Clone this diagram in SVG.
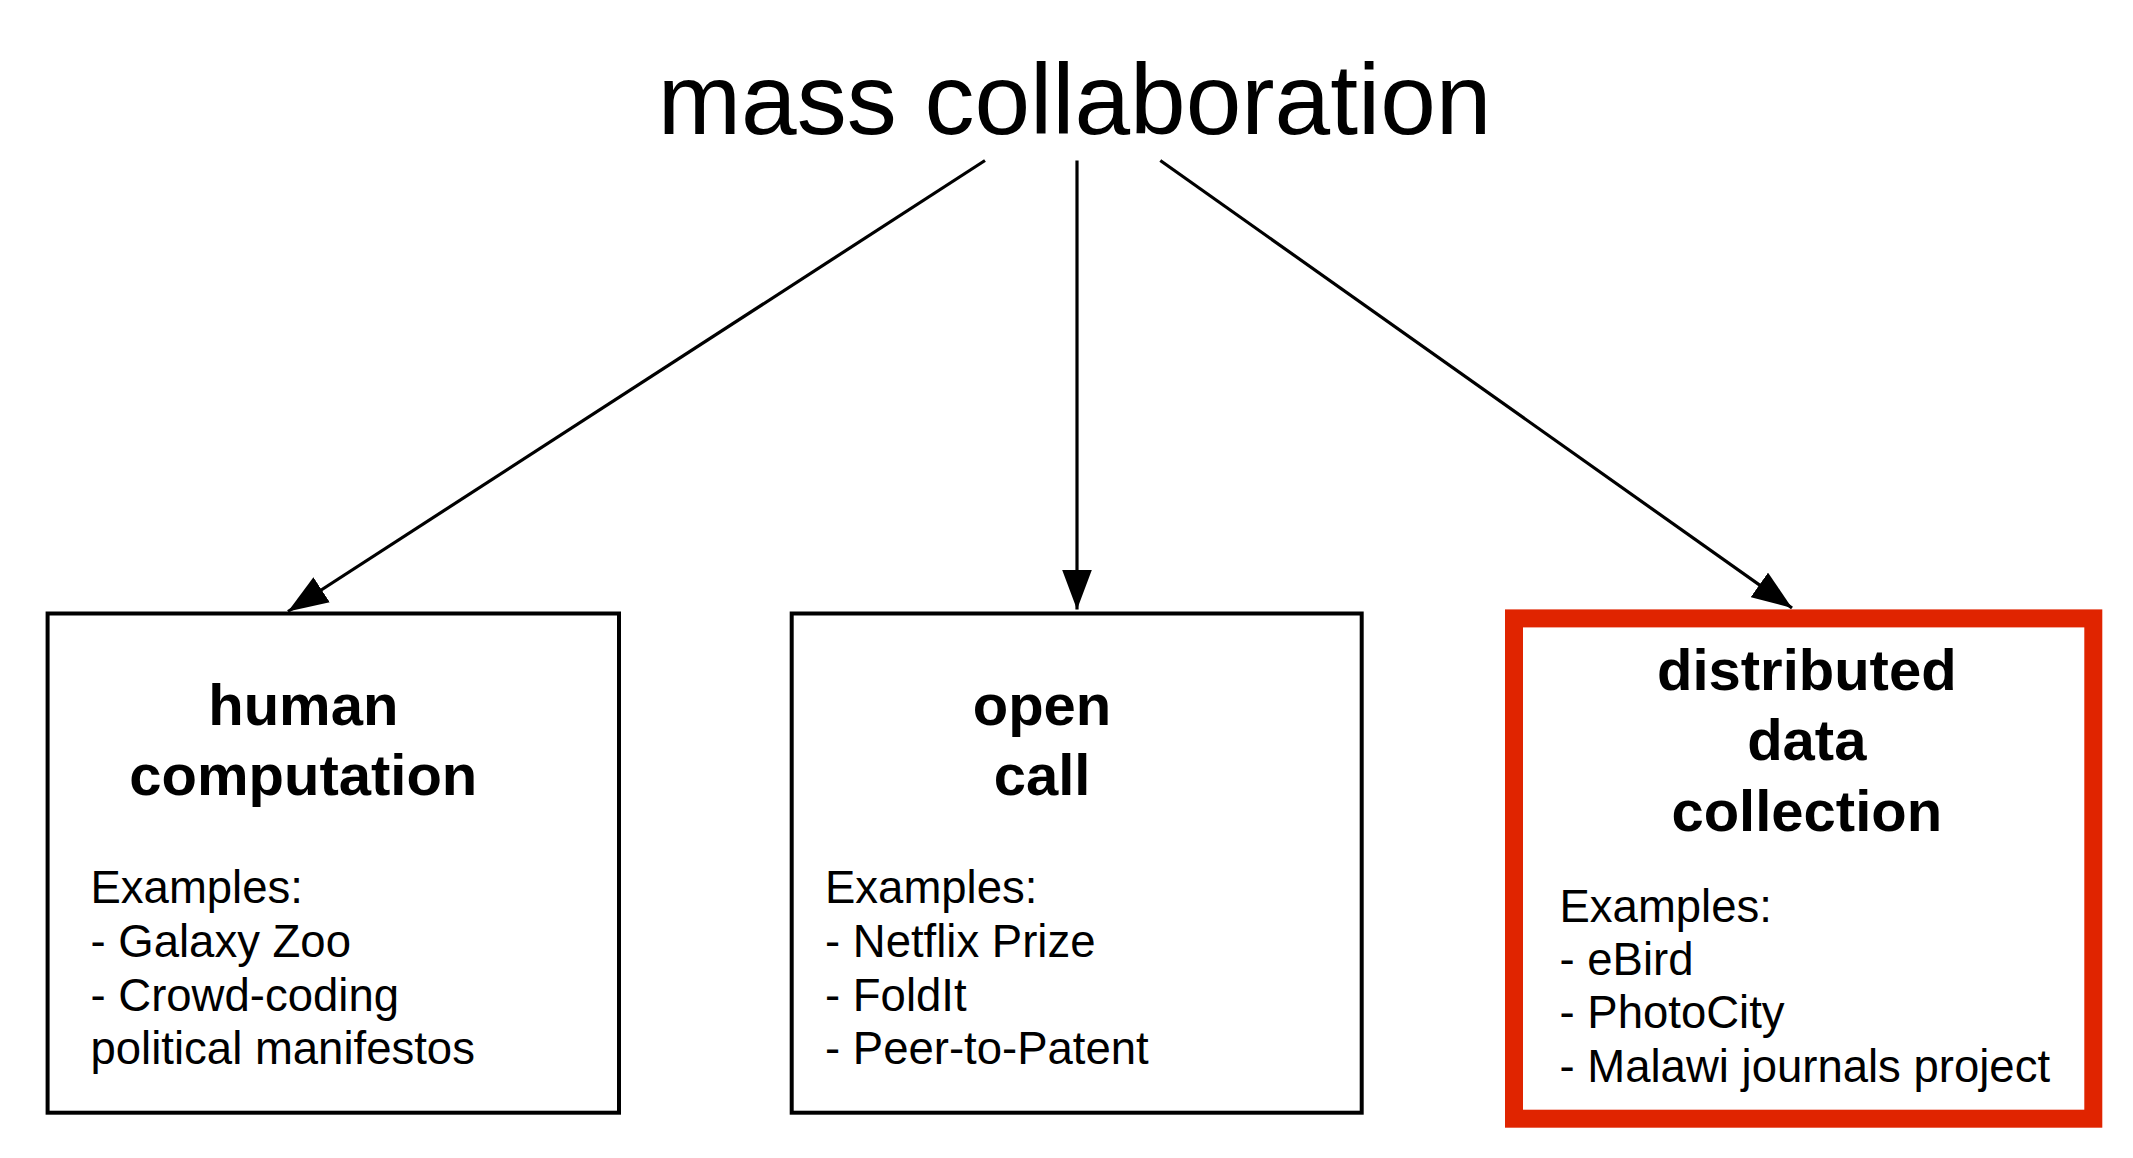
<svg xmlns="http://www.w3.org/2000/svg" width="2133" height="1158" viewBox="0 0 2133 1158">
<style>
.t{font-family:"Liberation Sans",Arial,sans-serif;fill:#000}
.title{font-size:100px}
.hd{font-size:58px;font-weight:bold;text-anchor:middle}
.ex{font-size:45.5px}
.box{fill:#fff;stroke:#000;stroke-width:4}
.conn{stroke:#000;stroke-width:3.2;fill:none;marker-end:url(#ah)}
</style>
<defs>
<marker id="ah" markerUnits="userSpaceOnUse" markerWidth="40" markerHeight="30" viewBox="0 0 40 30" refX="40" refY="15" orient="auto">
<path d="M0,0 L40,15 L0,30 z" fill="#000"/>
</marker>
</defs>
<rect width="2133" height="1158" fill="#fff"/>
<g id="title"><text class="t title" x="1074.6" y="134" text-anchor="middle">mass collaboration</text></g>
<g id="connectors">
<line class="conn" x1="985" y1="160.5" x2="288" y2="611.5"/>
<line class="conn" x1="1077" y1="160.5" x2="1077" y2="609.5"/>
<line class="conn" x1="1160.3" y1="160.5" x2="1792" y2="608"/>
</g>
<g id="node-human-computation">
<rect class="box" x="47.6" y="613.5" width="571.4" height="499.2"/>
<text class="t hd" x="303.3" y="725">human</text>
<text class="t hd" x="303.3" y="795">computation</text>
<text class="t ex" x="90.5" y="903">Examples:</text>
<text class="t ex" x="90.5" y="956.5">- Galaxy Zoo</text>
<text class="t ex" x="90.5" y="1010.5">- Crowd-coding</text>
<text class="t ex" x="90.5" y="1064">political manifestos</text>
</g>
<g id="node-open-call">
<rect class="box" x="791.7" y="613.5" width="570" height="499.2"/>
<text class="t hd" x="1042" y="725">open</text>
<text class="t hd" x="1042" y="795">call</text>
<text class="t ex" x="825" y="903">Examples:</text>
<text class="t ex" x="825" y="956.5">- Netflix Prize</text>
<text class="t ex" x="825" y="1010.5">- FoldIt</text>
<text class="t ex" x="825" y="1064">- Peer-to-Patent</text>
</g>
<g id="node-distributed-data-collection">
<rect x="1514" y="618.4" width="579.3" height="500.3" fill="#fff" stroke="#e02400" stroke-width="18"/>
<text class="t hd" x="1806.8" y="689.5">distributed</text>
<text class="t hd" x="1806.8" y="760">data</text>
<text class="t hd" x="1806.8" y="831">collection</text>
<text class="t ex" x="1559.5" y="921.7">Examples:</text>
<text class="t ex" x="1559.5" y="975">- eBird</text>
<text class="t ex" x="1559.5" y="1028.4">- PhotoCity</text>
<text class="t ex" x="1559.5" y="1082.4">- Malawi journals project</text>
</g>
</svg>
